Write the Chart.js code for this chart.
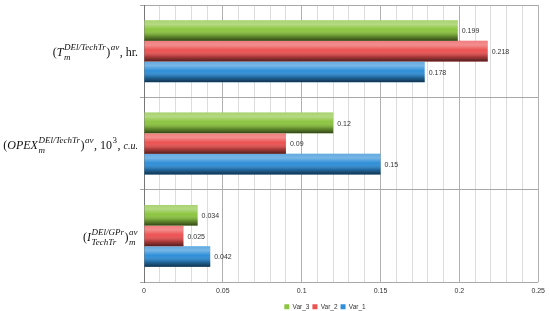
<!DOCTYPE html>
<html>
<head>
<meta charset="utf-8">
<script src="https://cdn.jsdelivr.net/npm/chart.js@4/dist/chart.umd.min.js"></script>
<style>
  html, body { margin: 0; padding: 0; background: #fff; }
  #wrap { width: 550px; height: 311px; }
</style>
</head>
<body>
<div id="wrap"><canvas id="barChart" width="550" height="311"></canvas></div>
<script>
// Category labels (markup: *..* italic, [..] small italic, ^{..} superscript, _{..} subscript)
const categories = [
  '(*T*_{m}^{DEl/TechTr})^{av}, hr.',
  '(*OPEX*_{m}^{DEl/TechTr})^{av}, 10^{3}, [c.u.]',
  '(*I*_{TechTr}^{DEl/GPr})_{m}^{av}'
];
const seriesNames = ['Var_3', 'Var_2', 'Var_1'];
const var3 = [0.199, 0.12, 0.034];
const var2 = [0.218, 0.09, 0.025];
const var1 = [0.178, 0.15, 0.042];
const xTicks = [0, 0.05, 0.1, 0.15, 0.2, 0.25];

const colors = ['#8cc540', '#ec5252', '#2f8fd8'];

// split the label markup into runs
function parseLabel(src) {
  const runs = [];
  let italic = false, small = false, buf = '', i = 0;
  const flush = () => { if (buf) { runs.push({ text: buf, italic, small }); buf = ''; } };
  while (i < src.length) {
    const ch = src[i];
    if (ch === '*') { flush(); italic = !italic; i++; continue; }
    if (ch === '[' || ch === ']') { flush(); small = ch === '['; i++; continue; }
    if ((ch === '^' || ch === '_') && src[i + 1] === '{') {
      flush();
      const end = src.indexOf('}', i);
      const txt = src.slice(i + 2, end);
      const kind = ch === '^' ? 'sup' : 'sub';
      const last = runs[runs.length - 1];
      if (last && last.stack && !last[kind]) last[kind] = txt;
      else runs.push({ stack: true, [kind]: txt });
      i = end + 1;
      continue;
    }
    buf += ch; i++;
  }
  flush();
  return runs;
}

const serif = '"Liberation Serif", "DejaVu Serif", serif';
const mainFont = (r) => r.small ? 'italic 10px ' + serif : (r.italic ? 'italic ' : '') + '12px ' + serif;
const scriptFont = (t) => (/^\d+$/.test(t) ? '' : 'italic ') + '9px ' + serif;

const mathLabels = {
  id: 'mathLabels',
  afterLayout(chart) {
    // legend sits a little left of the plot centre
    if (chart.legend) { chart.legend.left -= 17; chart.legend.right -= 17; }
  },
  afterDraw(chart) {
    const { ctx, chartArea, scales } = chart;
    const right = chartArea.left - 6;
    ctx.save();
    ctx.fillStyle = '#111';
    ctx.textBaseline = 'alphabetic';
    categories.forEach((lab, idx) => {
      const runs = parseLabel(lab);
      let w = 0;
      runs.forEach(r => {
        if (r.stack) {
          let a = 0, b = 0;
          if (r.sup) { ctx.font = scriptFont(r.sup); a = ctx.measureText(r.sup).width; }
          if (r.sub) { ctx.font = scriptFont(r.sub); b = ctx.measureText(r.sub).width; }
          r.w = Math.max(a, b) + 1;
        } else {
          ctx.font = mainFont(r);
          r.w = ctx.measureText(r.text).width;
        }
        w += r.w;
      });
      let x = right - w;
      const base = scales.y.getPixelForValue(idx) + 5;
      runs.forEach(r => {
        if (r.stack) {
          if (r.sup) { ctx.font = scriptFont(r.sup); ctx.fillText(r.sup, x + 0.5, base - 6); }
          if (r.sub) { ctx.font = scriptFont(r.sub); ctx.fillText(r.sub, x + 0.5, base + 4); }
        } else {
          ctx.font = mainFont(r);
          ctx.fillText(r.text, x, base);
        }
        x += r.w;
      });
    });
    ctx.restore();
  }
};

// cylinder-like shading and value labels on bars
const barShade = {
  id: 'barShade',
  afterDatasetsDraw(chart) {
    const { ctx } = chart;
    ctx.save();
    chart.data.datasets.forEach((ds, di) => {
      const meta = chart.getDatasetMeta(di);
      if (meta.hidden) return;
      meta.data.forEach((el, i) => {
        const { x, y, base, height } = el.getProps(['x', 'y', 'base', 'height'], true);
        const top = y - height / 2;
        const g = ctx.createLinearGradient(0, top, 0, top + height);
        g.addColorStop(0, 'rgba(255,255,255,0.25)');
        g.addColorStop(0.2, 'rgba(255,255,255,0.35)');
        g.addColorStop(0.45, 'rgba(255,255,255,0)');
        g.addColorStop(0.75, 'rgba(0,0,0,0.25)');
        g.addColorStop(1, 'rgba(0,0,0,0.65)');
        ctx.fillStyle = g;
        ctx.fillRect(base, top, x - base, height);
        ctx.font = '7px "Liberation Sans", Arial, sans-serif';
        ctx.fillStyle = '#333';
        ctx.textBaseline = 'middle';
        ctx.textAlign = 'left';
        ctx.fillText(String(ds.data[i]), x + 4, y + 1);
      });
    });
    ctx.restore();
  }
};

new Chart(document.getElementById('barChart').getContext('2d'), {
  type: 'bar',
  data: {
    labels: categories,
    datasets: seriesNames.map((name, k) => ({
      label: name,
      data: [var3, var2, var1][k],
      backgroundColor: colors[k],
      borderWidth: 0,
      categoryPercentage: 0.67,
      barPercentage: 1
    }))
  },
  options: {
    indexAxis: 'y',
    responsive: false,
    animation: false,
    layout: { padding: { left: 140, top: 5, right: 6, bottom: -9 } },
    plugins: {
      legend: {
        position: 'bottom',
        labels: {
          boxWidth: 5, boxHeight: 5, padding: 3,
          font: { size: 6.5, family: '"Liberation Sans", Arial, sans-serif' },
          color: '#333'
        }
      },
      tooltip: { enabled: false }
    },
    scales: {
      x: {
        min: 0,
        max: 0.25,
        ticks: {
          stepSize: 0.01,
          autoSkip: false,
          maxRotation: 0,
          padding: 5,
          font: { size: 7, family: '"Liberation Sans", Arial, sans-serif' },
          color: '#333',
          callback: (v) => {
            const hit = xTicks.find(t => Math.abs(t - v) < 1e-6);
            return hit === undefined ? '' : String(hit);
          }
        },
        grid: {
          color: (c) => {
            const v = c.tick ? c.tick.value : 0;
            return xTicks.some(t => Math.abs(t - v) < 1e-6) ? '#b0b0b0' : '#dcdcdc';
          },
          drawTicks: false
        },
        border: { display: false }
      },
      y: {
        ticks: { display: false },
        grid: { color: '#a8a8a8', tickLength: 4 },
        border: { color: '#777' }
      }
    }
  },
  plugins: [barShade, mathLabels]
});
</script>
</body>
</html>
